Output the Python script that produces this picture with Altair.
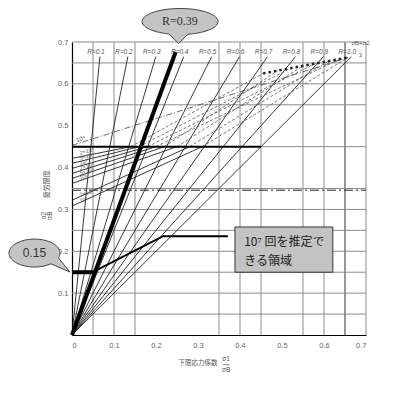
import altair as alt
import pandas as pd

# ---------------- data (chart coordinates) ----------------
X_TICKS = [0, 0.1, 0.2, 0.3, 0.4, 0.5, 0.6, 0.7]
Y_TICKS = [0.1, 0.2, 0.3, 0.4, 0.5, 0.6, 0.7]
GRID_X = [0.05, 0.1, 0.15, 0.35, 0.4, 0.45, 0.55, 0.6, 0.7]
GRID_X_DARK = [0.65]
GRID_Y = [0.05, 0.1, 0.15, 0.2, 0.25, 0.3, 0.35, 0.45, 0.55, 0.6, 0.65, 0.7]

# stress-ratio lines through the origin
R_VALUES = [0.1, 0.2, 0.3, 0.4, 0.5, 0.6, 0.7, 0.8, 0.9, 1.0]
R_LABELS = ["R=0.1", "R=0.2", "R=0.3", "R=0.4", "R=0.5", "R=0.6", "R=0.7", "R=0.8", "R=0.9", "R=1.0"]
R_TOP_Y = 0.665
BOLD_R = 0.365
BOLD_TOP_Y = 0.676

# fatigue-life lines (solid up to 0.45, dashed above)
N_LABELS = ["2×10⁴", "5×10⁴", "10⁵", "2×10⁵", "5×10⁵", "10⁶", "2×10⁶", "10⁷"]
N_START_Y = [0.422, 0.410, 0.398, 0.386, 0.374, 0.362, 0.322, 0.308]
N_BREAK_X = [0.14, 0.16, 0.18, 0.20, 0.22, 0.25, 0.28, 0.31]
N_END_X = [0.455, 0.52, 0.58, 0.64, 0.49, 0.55, 0.61, 0.657]
N_END_Y = [0.625, 0.637, 0.649, 0.660, 0.632, 0.643, 0.654, 0.663]
BREAK_Y = 0.45

TOP_LINE_X = [0.0, 0.657]
TOP_LINE_Y = [0.453, 0.663]
TOP_LINE_LABEL = "10⁴"

ENVELOPE_X = [0.455, 0.657]
ENVELOPE_Y = [0.625, 0.663]

LIMIT_X = [0.0, 0.45]
LIMIT_Y = [0.45, 0.45]
LOW_X = [0.0, 0.055]
LOW_Y = [0.15, 0.15]
CONNECTOR_X = [0.055, 0.217, 0.371]
CONNECTOR_Y = [0.153, 0.236, 0.236]
DASHDOT_X = [0.0, 0.7]
DASHDOT_Y = [0.346, 0.346]

BOX_X = [0.388, 0.621]
BOX_Y = [0.150, 0.258]
BOX_TEXT = ["10⁷ 回を推定で", "きる領域"]
BOX_TEXT_X = [0.41, 0.41]
BOX_TEXT_Y = [0.222, 0.176]

CALLOUT_R_POS = (0.257, 0.749)
CALLOUT_R_TEXT = "R=0.39"
CALLOUT_015_POS = (-0.0893, 0.1957)
CALLOUT_015_TEXT = "0.15"

X_TITLE = "下限応力係数"
Y_TITLE = "疲労限度"

# ---------------- helpers ----------------
X_SCALE = alt.Scale(domain=[0, 0.7], nice=False, zero=False)
Y_SCALE = alt.Scale(domain=[0, 0.7], nice=False, zero=False)

X_AXIS = alt.Axis(values=X_TICKS, format=".1~f", title=None, grid=False, ticks=False,
                  domain=True, domainColor="#000", domainWidth=1.2,
                  labelFontSize=7.5, labelColor="#666", labelPadding=6,
                  labelFont="Liberation Sans")
Y_AXIS = alt.Axis(values=Y_TICKS, format=".1f", title=None, grid=False, ticks=False,
                  domain=True, domainColor="#000", domainWidth=1.2,
                  labelFontSize=7.5, labelColor="#666", labelPadding=4,
                  labelFont="Liberation Sans")


def X(field="x"):
    return alt.X(f"{field}:Q", scale=X_SCALE, axis=X_AXIS)


def Y(field="y"):
    return alt.Y(f"{field}:Q", scale=Y_SCALE, axis=Y_AXIS)


def segs(rows):
    return pd.DataFrame(rows, columns=["id", "o", "x", "y"])


def line_layer(df, **kw):
    return alt.Chart(df).mark_line(**kw).encode(
        x=X(), y=Y(), detail="id:N", order="o:Q"
    )


CJK = "Noto Sans CJK JP"

# grid
grid_v = alt.Chart(pd.DataFrame({"x": GRID_X})).mark_rule(color="#8c8c8c", strokeWidth=1).encode(x=X())
grid_vd = alt.Chart(pd.DataFrame({"x": GRID_X_DARK})).mark_rule(color="#333", strokeWidth=1).encode(x=X())
grid_h = alt.Chart(pd.DataFrame({"y": GRID_Y})).mark_rule(color="#8c8c8c", strokeWidth=1).encode(y=Y())

# box
box = alt.Chart(pd.DataFrame({"x": [BOX_X[0]], "x2": [BOX_X[1]], "y": [BOX_Y[0]], "y2": [BOX_Y[1]]})).mark_rect(
    fill="#c3c3c3", stroke="#333", strokeWidth=1
).encode(x=X(), x2="x2:Q", y=Y(), y2="y2:Q")
box_text = alt.Chart(pd.DataFrame({"x": BOX_TEXT_X, "y": BOX_TEXT_Y, "t": BOX_TEXT})).mark_text(
    align="left", baseline="middle", font=CJK, fontSize=12, color="#222"
).encode(x=X(), y=Y(), text="t:N")

# R lines
r_rows = []
for i, r in enumerate(R_VALUES):
    r_rows += [(i, 0, 0.0, 0.0), (i, 1, r * R_TOP_Y, R_TOP_Y)]
r_lines = line_layer(segs(r_rows), color="#222", strokeWidth=0.9)
r_lab = alt.Chart(pd.DataFrame({"x": [r * R_TOP_Y for r in R_VALUES], "y": [R_TOP_Y] * len(R_VALUES),
                                "t": R_LABELS})).mark_text(
    align="center", baseline="bottom", dx=-4, dy=-2, fontSize=6.5, fontStyle="italic", color="#555",
    font="Liberation Sans"
).encode(x=X(), y=Y(), text="t:N")
frac_top = alt.Chart(pd.DataFrame({"x": [0.687], "y": [0.69], "t": ["σB+σ2"]})).mark_text(
    fontSize=6, color="#555", baseline="bottom").encode(x=X(), y=Y(), text="t:N")
frac_bot = alt.Chart(pd.DataFrame({"x": [0.687], "y": [0.668], "t": ["3"]})).mark_text(
    fontSize=6, color="#555", baseline="middle").encode(x=X(), y=Y(), text="t:N")

# bold line
bold = line_layer(segs([(0, 0, 0.0, 0.0), (0, 1, BOLD_R * BOLD_TOP_Y, BOLD_TOP_Y)]), color="#000", strokeWidth=4)

# N lines
sol_rows, dash_rows = [], []
for i in range(len(N_START_Y)):
    sol_rows += [(i, 0, 0.0, N_START_Y[i]), (i, 1, N_BREAK_X[i], BREAK_Y)]
    dash_rows += [(i, 0, N_BREAK_X[i], BREAK_Y), (i, 1, N_END_X[i], N_END_Y[i])]
n_solid = line_layer(segs(sol_rows), color="#222", strokeWidth=0.9)
n_dash = line_layer(segs(dash_rows), color="#555", strokeWidth=0.8, strokeDash=[3, 2])
n_lab = alt.Chart(pd.DataFrame({"x": [0.02] * len(N_LABELS), "y": [v + 0.006 for v in N_START_Y],
                                "t": N_LABELS})).mark_text(
    align="left", baseline="bottom", angle=345, fontSize=5.5, color="#555"
).encode(x=X(), y=Y(), text="t:N")

top_line = line_layer(segs([(0, 0, TOP_LINE_X[0], TOP_LINE_Y[0]), (0, 1, TOP_LINE_X[1], TOP_LINE_Y[1])]),
                      color="#444", strokeWidth=0.8, strokeDash=[6, 2, 1, 2])
top_lab = alt.Chart(pd.DataFrame({"x": [0.012], "y": [TOP_LINE_Y[0] + 0.006], "t": [TOP_LINE_LABEL]})).mark_text(
    align="left", baseline="bottom", angle=345, fontSize=6, color="#555"
).encode(x=X(), y=Y(), text="t:N")

envelope = line_layer(segs([(0, 0, ENVELOPE_X[0], ENVELOPE_Y[0]), (0, 1, ENVELOPE_X[1], ENVELOPE_Y[1])]),
                      color="#222", strokeWidth=2.5, strokeDash=[2.5, 3])

dashdot = line_layer(segs([(0, 0, DASHDOT_X[0], DASHDOT_Y[0]), (0, 1, DASHDOT_X[1], DASHDOT_Y[1])]),
                     color="#222", strokeWidth=1, strokeDash=[9, 3, 2, 3])
limit = line_layer(segs([(0, 0, LIMIT_X[0], LIMIT_Y[0]), (0, 1, LIMIT_X[1], LIMIT_Y[1])]), color="#000",
                   strokeWidth=2)
low = line_layer(segs([(0, 0, LOW_X[0], LOW_Y[0]), (0, 1, LOW_X[1], LOW_Y[1])]), color="#000", strokeWidth=4)
conn = line_layer(segs([(0, k, CONNECTOR_X[k], CONNECTOR_Y[k]) for k in range(3)]), color="#000",
                  strokeWidth=2)

# callouts (ellipse + tail as custom symbol paths)
PATH_R = "M 0.208 0.335 L -0.03 0.58 L -0.292 0.327 A 1 0.342 0 1 1 0.208 0.335 Z"
PATH_015 = "M 0.94 0.188 L 1.39 0.745 L 0.643 0.42 A 1 0.549 0 1 1 0.94 0.188 Z"
call_r = alt.Chart(pd.DataFrame({"x": [CALLOUT_R_POS[0]], "y": [CALLOUT_R_POS[1]]})).mark_point(
    shape=PATH_R, size=5776, filled=True, fill="#c4c4c4", stroke="#444", strokeWidth=1, opacity=1
).encode(x=X(), y=Y())
call_r_t = alt.Chart(pd.DataFrame({"x": [CALLOUT_R_POS[0]], "y": [CALLOUT_R_POS[1]], "t": [CALLOUT_R_TEXT]})).mark_text(
    font="Liberation Serif", fontSize=12, color="#333"
).encode(x=X(), y=Y(), text="t:N")
call_15 = alt.Chart(pd.DataFrame({"x": [CALLOUT_015_POS[0]], "y": [CALLOUT_015_POS[1]]})).mark_point(
    shape=PATH_015, size=2601, filled=True, fill="#c4c4c4", stroke="#444", strokeWidth=1, opacity=1
).encode(x=X(), y=Y())
call_15_t = alt.Chart(pd.DataFrame({"x": [CALLOUT_015_POS[0]], "y": [CALLOUT_015_POS[1]], "t": [CALLOUT_015_TEXT]})).mark_text(
    font="Liberation Sans", fontSize=12, color="#333"
).encode(x=X(), y=Y(), text="t:N")

# axis titles
xt = alt.Chart(pd.DataFrame({"x": [0.3], "y": [-0.068], "t": [X_TITLE]})).mark_text(
    font=CJK, fontSize=6.5, color="#555").encode(x=X(), y=Y(), text="t:N")
xf = alt.Chart(pd.DataFrame({"x": [0.367, 0.367], "y": [-0.058, -0.084], "t": ["σ1", "σB"]})).mark_text(
    fontSize=6.5, color="#555").encode(x=X(), y=Y(), text="t:N")
xbar = line_layer(segs([(0, 0, 0.359, -0.071), (0, 1, 0.375, -0.071)]), color="#555", strokeWidth=0.7)
yt = alt.Chart(pd.DataFrame({"x": [-0.06], "y": [0.36], "t": [Y_TITLE]})).mark_text(
    font=CJK, fontSize=7, color="#555", angle=270).encode(x=X(), y=Y(), text="t:N")
yf = alt.Chart(pd.DataFrame({"x": [-0.066, -0.053], "y": [0.285, 0.285], "t": ["σ2", "σB"]})).mark_text(
    fontSize=6.5, color="#555", angle=270).encode(x=X(), y=Y(), text="t:N")

chart = alt.layer(
    grid_v, grid_vd, grid_h, box, box_text,
    r_lines, n_solid, n_dash, top_line, envelope, dashdot, limit,
    bold, low, conn, r_lab, frac_top, frac_bot, n_lab, top_lab,
    call_r, call_r_t, call_15, call_15_t, xt, xf, xbar, yt, yf
).properties(
    width=294, height=293,
    autosize=alt.AutoSizeParams(type="none"),
    padding={"left": 64, "top": 34, "right": 15, "bottom": 55},
).configure_view(stroke=None)

chart.save("out.html", embed_options={"renderer": "svg", "actions": False})
